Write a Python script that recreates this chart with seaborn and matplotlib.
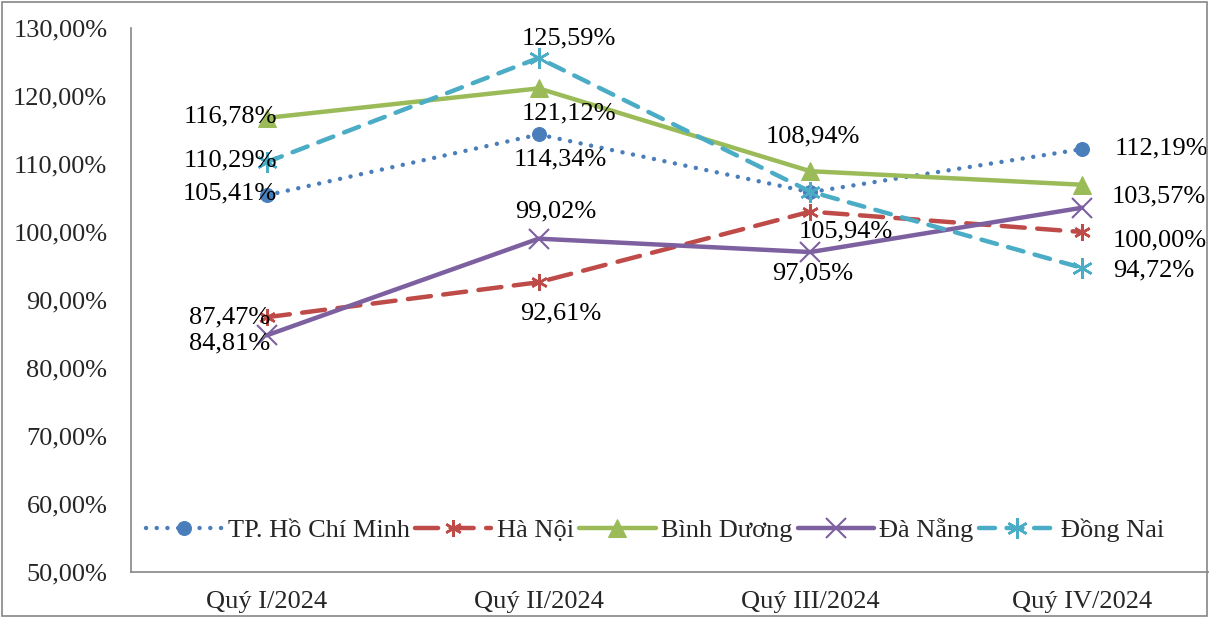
import numpy as np
import matplotlib
matplotlib.use("Agg")
import matplotlib.pyplot as plt
import seaborn as sns
from matplotlib.patches import Rectangle

# === Data ===
quarters = ["Quý I/2024", "Quý II/2024", "Quý III/2024", "Quý IV/2024"]
hcm = [105.41, 114.34, 105.85, 112.19]
ha_noi = [87.47, 92.61, 103.0, 100.00]
binh_duong = [116.78, 121.12, 108.94, 106.95]
da_nang = [84.81, 99.02, 97.05, 103.57]
dong_nai = [110.29, 125.59, 105.94, 94.72]
series_names = ["TP. Hồ Chí Minh", "Hà Nội", "Bình Dương", "Đà Nẵng", "Đồng Nai"]

# label offsets in pixels (None = no label shown)
offsets = {
    "TP. Hồ Chí Minh": [(10, 2, "right"), (22, -25, "center"), None, (33, 1, "left")],
    "Hà Nội": [(3, 0, "right"), (22, -31, "center"), None, (31, -8, "left")],
    "Bình Dương": [(10, 1, "right"), (30, -25, "center"), (2, 35, "center"), None],
    "Đà Nẵng": [(3, -8, "right"), (17, 27, "center"), (2, -21, "center"), (30, 11, "left")],
    "Đồng Nai": [(10, 2, "right"), (30, 20, "center"), (35, -40, "center"), (31, -3, "left")],
}

colors = {
    "TP. Hồ Chí Minh": "#4A7EBB",
    "Hà Nội": "#BE4B48",
    "Bình Dương": "#9BBB59",
    "Đà Nẵng": "#7D60A0",
    "Đồng Nai": "#4BACC6",
}

styles = {
    "TP. Hồ Chí Minh": dict(linestyle=(0, (0.01, 2.4)), marker="o", markersize=10,
                            dash_capstyle="round"),
    "Hà Nội": dict(linestyle=(0, (5.2, 2.8)), marker=(6, 2, 0), markersize=12,
                   markeredgewidth=1.8, dash_capstyle="round"),
    "Bình Dương": dict(linestyle="-", marker="^", markersize=13),
    "Đà Nẵng": dict(linestyle="-", marker="x", markersize=14, markeredgewidth=1.5),
    "Đồng Nai": dict(linestyle=(0, (3.6, 2.6)), marker=(6, 2, 0), markersize=15,
                     markeredgewidth=1.8, dash_capstyle="round"),
}

values = {
    "TP. Hồ Chí Minh": hcm,
    "Hà Nội": ha_noi,
    "Bình Dương": binh_duong,
    "Đà Nẵng": da_nang,
    "Đồng Nai": dong_nai,
}

sns.set_style("white")
plt.rcParams["font.family"] = ["Liberation Serif", "DejaVu Serif"]

fig = plt.figure(figsize=(12.09, 6.18), dpi=100)
ax = fig.add_axes([131 / 1209, 46 / 618, 1087 / 1209, 544 / 618])

x = np.arange(len(quarters))
for name in series_names:
    c = colors[name]
    sns.lineplot(x=x, y=values[name], ax=ax, label=name, linewidth=3.2,
                 color=c, markerfacecolor=c, markeredgecolor=c, **styles[name])

# === Data labels ===
fmt = lambda v: f"{v:.2f}".replace(".", ",") + "%"
for name in series_names:
    for i, v in enumerate(values[name]):
        off = offsets[name][i]
        if off is None:
            continue
        dx, dy, ha = off
        ax.annotate(fmt(v), (i, v), xytext=(dx, dy), textcoords="offset pixels",
                    ha=ha, va="center", fontsize=19, color="black")

# === Axes ===
ax.set_xlim(-0.5, 3.5)
ax.set_ylim(50, 130)
ax.set_yticks(np.arange(50, 131, 10))
ax.set_yticklabels([f"{t},00%" for t in range(50, 131, 10)], fontsize=19)
ax.set_xticks(x)
ax.set_xticklabels(quarters, fontsize=19)
ax.set_xticks([-0.5, 0.5, 1.5, 2.5, 3.5], minor=True)
ax.tick_params(axis="x", which="major", length=0, pad=14)
ax.tick_params(axis="x", which="minor", length=7, color="#868686", width=1, direction="out")
ax.tick_params(axis="y", length=7, color="#868686", width=1, direction="out", pad=10)
for s in ["top", "right"]:
    ax.spines[s].set_visible(False)
for s in ["left", "bottom"]:
    ax.spines[s].set_color("#868686")
    ax.spines[s].set_linewidth(1.2)
ax.set_xlabel("")
ax.set_ylabel("")

ax.legend(loc="center", bbox_to_anchor=(0.482, 0.077), ncol=5, frameon=False,
          fontsize=19, handlelength=2.9, handletextpad=0.2, columnspacing=0.2)

# outer frame
fig.add_artist(Rectangle((2 / 1209, 2 / 618), 1205 / 1209, 614 / 618, transform=fig.transFigure,
                         fill=False, edgecolor="#868686", linewidth=1.2))

plt.savefig("out.png", dpi=100)
plt.close(fig)
